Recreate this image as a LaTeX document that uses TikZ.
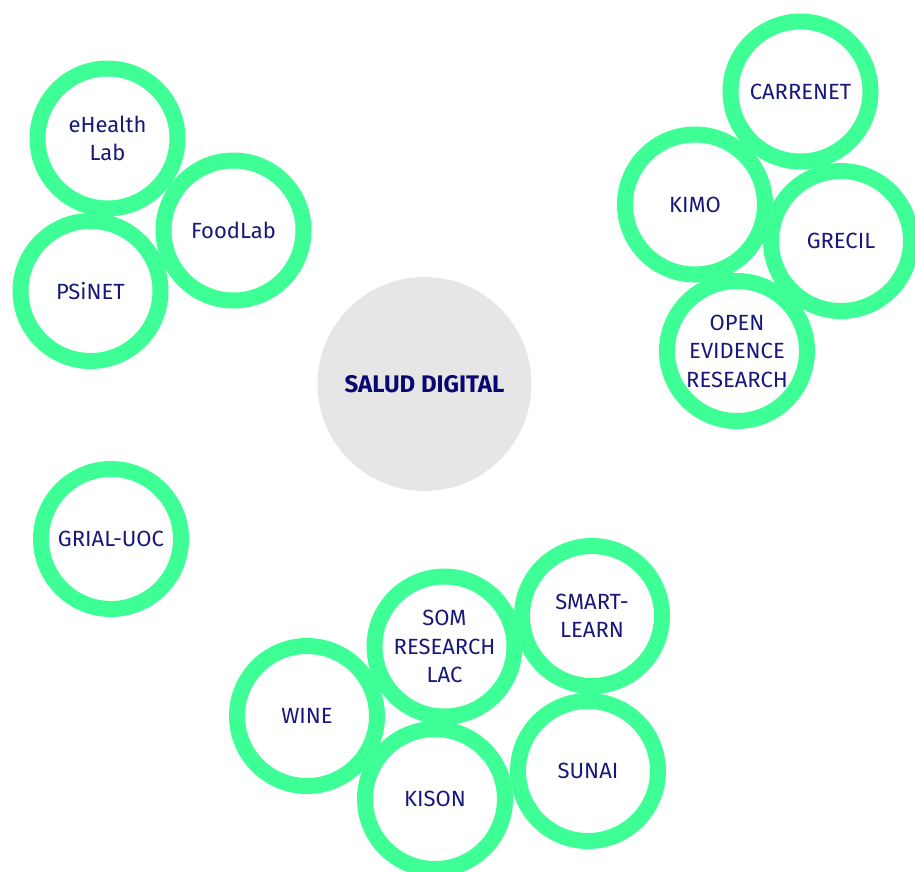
\documentclass[tikz,border=0pt]{standalone}
\usepackage{fontspec}
\setmainfont{Fira Sans}
\definecolor{ringgreen}{RGB}{62,255,150}
\definecolor{labelblue}{RGB}{24,24,122}
\definecolor{hubblue}{RGB}{8,8,112}
\definecolor{hubgrey}{RGB}{230,230,230}
\tikzset{
  group/.style={circle, draw=ringgreen, line width=16pt, fill=white, minimum size=140pt, inner sep=0pt,
    align=center, text=labelblue, font=\fontsize{22}{28.5}\selectfont},
  hub/.style={circle, fill=hubgrey, minimum size=214pt, inner sep=0pt,
    text=hubblue, font=\bfseries\fontsize{24}{28}\selectfont}
}
\begin{document}
\begin{tikzpicture}[x=1pt,y=-1pt]
\useasboundingbox (0,0) rectangle (915,871);
\node[hub] (salud) at (424.5,384) {SALUD DIGITAL};
% research groups
\foreach \n/\x/\y/\t in {ehealth/107.5/138.5/{eHealth\\Lab}, foodlab/233.5/230.5/{FoodLab},
  psinet/90.5/291/{PSiNET}, grial/111/539/{GRIAL-UOC},
  carrenet/800.5/91.5/{CARRENET}, kimo/695/204.5/{KIMO}, grecil/841/241/{GRECIL},
  openev/737/351/{OPEN\\EVIDENCE\\RESEARCH},
  som/444.5/646.5/{SOM\\RESEARCH\\LAC}, smart/592/616/{SMART-\\LEARN},
  wine/307/716/{WINE}, kison/435/799/{KISON}, sunai/588/771/{SUNAI}} {
 \node[group] (\n) at (\x,\y) {\t};
}
\end{tikzpicture}
\end{document}
